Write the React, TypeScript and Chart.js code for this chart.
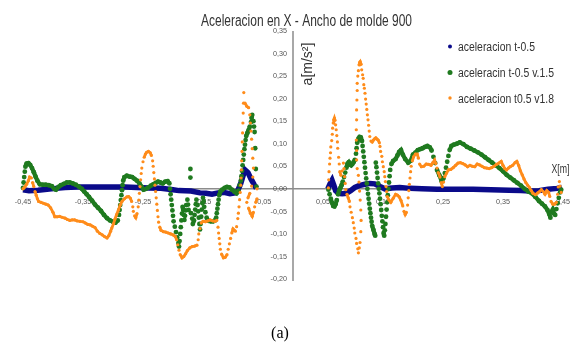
import React, { useEffect, useRef } from 'react';
import { Chart, registerables } from 'chart.js';

Chart.register(...registerables);

const chartTitle = 'Aceleracion en X - Ancho de molde 900';
const yAxisTitle = 'a[m/s²]';
const xAxisTitle = 'X[m]';
const caption = '(a)';
const seriesNames = ['aceleracion t-0.5', 'aceleracin t-0.5 v.1.5', 'aceleracion t0.5 v1.8'];
const seriesColors = ['#0a0a8a', '#1f7a1f', '#ff8c1a'];

const xTickValues = [-0.45, -0.35, -0.25, -0.15, -0.05, 0.05, 0.15, 0.25, 0.35, 0.45];
const xTickLabels = ['-0,45', '-0,35', '-0,25', '-0,15', '-0,05', '0,05', '0,15', '0,25', '0,35', '0,45'];
const yTickValues = [0.35, 0.3, 0.25, 0.2, 0.15, 0.1, 0.05, 0, -0.05, -0.1, -0.15, -0.2];
const yTickLabels = ['0,35', '0,30', '0,25', '0,20', '0,15', '0,10', '0,05', '0,00', '-0,05', '-0,10', '-0,15', '-0,20'];

type P = [number, number];

const blueLeft: P[] = [
  [-0.45, -0.002], [-0.44, -0.004], [-0.425, -0.003], [-0.41, -0.001], [-0.395, 0.001], [-0.38, 0.003],
  [-0.36, 0.004], [-0.34, 0.004], [-0.32, 0.004], [-0.3, 0.004], [-0.28, 0.004], [-0.26, 0.003],
  [-0.24, 0.002], [-0.22, 0.001], [-0.2, -0.002], [-0.19, -0.004], [-0.17, -0.005], [-0.155, -0.009],
  [-0.145, -0.01], [-0.135, -0.012], [-0.125, -0.009], [-0.115, -0.008], [-0.105, -0.011], [-0.097, -0.009],
  [-0.092, -0.004], [-0.087, 0.012], [-0.083, 0.03], [-0.08, 0.042], [-0.075, 0.036], [-0.07, 0.022],
  [-0.065, 0.01], [-0.061, 0.001],
];
const blueRight: P[] = [
  [0.058, 0.0], [0.062, 0.012], [0.065, 0.019], [0.068, 0.008], [0.071, -0.004], [0.076, -0.01],
  [0.082, -0.011], [0.089, -0.01], [0.096, -0.004], [0.103, 0.003], [0.11, 0.007], [0.12, 0.01],
  [0.128, 0.012], [0.136, 0.011], [0.145, 0.005], [0.153, 0.0], [0.165, 0.002], [0.178, 0.003],
  [0.195, 0.001], [0.215, 0.0], [0.24, -0.001], [0.27, -0.001], [0.3, -0.001], [0.33, -0.002],
  [0.36, -0.003], [0.38, -0.004], [0.395, -0.005], [0.41, -0.004], [0.425, -0.001], [0.44, 0.001],
  [0.448, 0.003],
];

const greenLeft: P[] = [
  [-0.45, 0.002], [-0.449, 0.014], [-0.448, 0.026], [-0.447, 0.038], [-0.446, 0.049], [-0.444, 0.056],
  [-0.441, 0.057], [-0.438, 0.053], [-0.435, 0.046], [-0.432, 0.037], [-0.429, 0.027], [-0.426, 0.018],
  [-0.422, 0.01], [-0.417, 0.009], [-0.412, 0.009], [-0.407, 0.008], [-0.402, 0.006], [-0.398, 0.0],
  [-0.395, -0.002], [-0.391, 0.004], [-0.387, 0.008], [-0.382, 0.011], [-0.377, 0.014], [-0.372, 0.014],
  [-0.367, 0.012], [-0.362, 0.009], [-0.357, 0.005], [-0.352, 0.0], [-0.348, -0.006], [-0.344, -0.012],
  [-0.34, -0.018], [-0.335, -0.026], [-0.33, -0.035], [-0.325, -0.042], [-0.32, -0.049], [-0.315, -0.058],
  [-0.31, -0.065], [-0.305, -0.07], [-0.3, -0.073], [-0.296, -0.075], [-0.292, -0.07],
  [-0.29, -0.058], [-0.289, -0.047], [-0.288, -0.036], [-0.287, -0.025], [-0.286, -0.014], [-0.285, -0.003],
  [-0.284, 0.008], [-0.283, 0.018], [-0.281, 0.026], [-0.277, 0.029], [-0.272, 0.027], [-0.268, 0.026],
  [-0.264, 0.022], [-0.26, 0.018], [-0.256, 0.012], [-0.252, 0.004], [-0.249, -0.002], [-0.245, 0.0],
  [-0.241, 0.003], [-0.237, 0.007], [-0.233, 0.01], [-0.229, 0.013], [-0.225, 0.016], [-0.221, 0.014],
  [-0.217, 0.012], [-0.213, 0.016], [-0.209, 0.017], [-0.206, 0.012],
  [-0.205, 0.0], [-0.204, -0.012], [-0.203, -0.024], [-0.202, -0.036], [-0.201, -0.048], [-0.2, -0.06],
  [-0.199, -0.072], [-0.197, -0.084], [-0.195, -0.096], [-0.193, -0.108], [-0.191, -0.12], [-0.19, -0.128],
  [-0.189, -0.116], [-0.188, -0.1], [-0.187, -0.085], [-0.186, -0.07], [-0.185, -0.055], [-0.184, -0.04],
  [-0.183, -0.047], [-0.182, -0.058], [-0.181, -0.069], [-0.18, -0.06], [-0.179, -0.048], [-0.178, -0.036],
  [-0.176, -0.024], [-0.175, -0.035], [-0.174, -0.047], [-0.171, 0.044], [-0.171, 0.025],
  [-0.17, -0.054], [-0.168, -0.066], [-0.167, -0.078], [-0.165, -0.07], [-0.164, -0.058], [-0.163, -0.046],
  [-0.162, -0.034], [-0.161, -0.024], [-0.159, -0.036], [-0.158, -0.05], [-0.157, -0.064], [-0.156, -0.078],
  [-0.155, -0.09], [-0.154, -0.078], [-0.153, -0.062], [-0.152, -0.046], [-0.151, -0.032], [-0.15, -0.02],
  [-0.149, -0.028], [-0.148, -0.04], [-0.146, -0.052], [-0.144, -0.064], [-0.141, -0.071], [-0.137, -0.072],
  [-0.133, -0.072], [-0.13, -0.07], [-0.128, -0.064], [-0.127, -0.054], [-0.126, -0.044], [-0.125, -0.034],
  [-0.124, -0.024], [-0.123, -0.014], [-0.121, -0.006], [-0.118, -0.002], [-0.114, 0.002], [-0.11, 0.004],
  [-0.106, 0.003], [-0.102, -0.002], [-0.098, -0.006], [-0.094, -0.01], [-0.091, -0.004], [-0.089, 0.008],
  [-0.087, 0.018], [-0.086, 0.028], [-0.085, 0.04], [-0.084, 0.052], [-0.083, 0.064], [-0.082, 0.076],
  [-0.081, 0.088], [-0.08, 0.098], [-0.079, 0.108], [-0.078, 0.117], [-0.076, 0.124], [-0.074, 0.13],
  [-0.072, 0.138], [-0.07, 0.148], [-0.069, 0.157], [-0.068, 0.164], [-0.066, 0.15], [-0.065, 0.138],
  [-0.064, 0.126], [-0.063, 0.09], [-0.062, 0.044], [-0.061, 0.005],
];
const greenRight: P[] = [
  [0.059, -0.002], [0.061, -0.012], [0.063, -0.022], [0.065, -0.031], [0.067, -0.038], [0.069, -0.039],
  [0.071, -0.034], [0.073, -0.025], [0.075, -0.012], [0.077, -0.004], [0.079, 0.002], [0.081, 0.008],
  [0.083, 0.016], [0.085, 0.026], [0.087, 0.036], [0.089, 0.047], [0.091, 0.056], [0.093, 0.059],
  [0.095, 0.054], [0.097, 0.052], [0.099, 0.055], [0.101, 0.059], [0.103, 0.064], [0.105, 0.078],
  [0.106, 0.09], [0.107, 0.102], [0.109, 0.111], [0.111, 0.115], [0.113, 0.114], [0.115, 0.106],
  [0.116, 0.095], [0.117, 0.083], [0.118, 0.071], [0.119, 0.059], [0.12, 0.047], [0.121, 0.035],
  [0.122, 0.023], [0.123, 0.012], [0.124, 0.0], [0.125, -0.011], [0.126, -0.022], [0.127, -0.033],
  [0.128, -0.044], [0.129, -0.054], [0.13, -0.064], [0.131, -0.073], [0.132, -0.082], [0.134, -0.091],
  [0.136, -0.1], [0.137, -0.104],
  [0.138, 0.058], [0.139, 0.048], [0.14, 0.036], [0.141, 0.024], [0.142, 0.012], [0.143, 0.0],
  [0.144, -0.01], [0.145, -0.022], [0.146, -0.034], [0.147, -0.047], [0.148, -0.06], [0.149, -0.072],
  [0.15, -0.085], [0.151, -0.098], [0.152, -0.104], [0.153, -0.092], [0.154, -0.078], [0.155, -0.062],
  [0.156, -0.046], [0.157, -0.03], [0.158, -0.014], [0.159, 0.0], [0.16, 0.014], [0.161, 0.028],
  [0.162, 0.042], [0.164, 0.055], [0.167, 0.062], [0.171, 0.066], [0.174, 0.074], [0.177, 0.082],
  [0.18, 0.086], [0.183, 0.076], [0.187, 0.066], [0.192, 0.058], [0.196, 0.062], [0.2, 0.076],
  [0.204, 0.08], [0.208, 0.086], [0.212, 0.088], [0.216, 0.09], [0.22, 0.093], [0.224, 0.095],
  [0.228, 0.092], [0.231, 0.085], [0.234, 0.071], [0.237, 0.057], [0.24, 0.042], [0.244, 0.03],
  [0.248, 0.016], [0.251, 0.024], [0.253, 0.035], [0.255, 0.047], [0.257, 0.06], [0.259, 0.073],
  [0.261, 0.086], [0.264, 0.095], [0.268, 0.098], [0.273, 0.1], [0.278, 0.103], [0.284, 0.099],
  [0.29, 0.093], [0.296, 0.089], [0.302, 0.085], [0.308, 0.081], [0.314, 0.076], [0.32, 0.07],
  [0.326, 0.064], [0.332, 0.058], [0.338, 0.052], [0.344, 0.046], [0.35, 0.039], [0.356, 0.031],
  [0.362, 0.025], [0.368, 0.019], [0.374, 0.013], [0.38, 0.007], [0.386, 0.0], [0.392, -0.006],
  [0.398, -0.01], [0.404, -0.018], [0.41, -0.027], [0.415, -0.033], [0.42, -0.039], [0.424, -0.047],
  [0.427, -0.056], [0.429, -0.064], [0.431, -0.052], [0.433, -0.046], [0.435, -0.055], [0.437, -0.058],
  [0.439, -0.045], [0.441, -0.032], [0.443, -0.02], [0.445, -0.008], [0.447, -0.002],
];

const orangeLeft: P[] = [
  [-0.45, 0.0], [-0.447, 0.004], [-0.444, 0.01], [-0.441, 0.018], [-0.439, 0.026], [-0.436, 0.024],
  [-0.434, 0.014], [-0.432, 0.005], [-0.43, -0.006], [-0.428, -0.014], [-0.426, -0.022], [-0.424, -0.028],
  [-0.42, -0.03], [-0.416, -0.032], [-0.412, -0.034], [-0.408, -0.036], [-0.404, -0.042], [-0.4, -0.052],
  [-0.397, -0.062], [-0.393, -0.062], [-0.389, -0.061], [-0.385, -0.063], [-0.38, -0.065], [-0.376, -0.068],
  [-0.372, -0.07], [-0.368, -0.069], [-0.364, -0.069], [-0.36, -0.071], [-0.355, -0.072], [-0.35, -0.073],
  [-0.346, -0.076], [-0.342, -0.079], [-0.338, -0.08], [-0.334, -0.083], [-0.33, -0.086], [-0.326, -0.094],
  [-0.322, -0.099], [-0.318, -0.102], [-0.314, -0.106], [-0.31, -0.109], [-0.307, -0.104], [-0.304, -0.094],
  [-0.302, -0.087], [-0.299, -0.077], [-0.297, -0.068], [-0.294, -0.057], [-0.291, -0.047], [-0.288, -0.036],
  [-0.285, -0.028], [-0.281, -0.022], [-0.277, -0.018], [-0.274, -0.017], [-0.271, -0.021], [-0.269, -0.028],
  [-0.267, -0.04], [-0.266, -0.05], [-0.264, -0.06], [-0.262, -0.064], [-0.26, -0.055], [-0.258, -0.04],
  [-0.257, -0.025], [-0.256, -0.01], [-0.255, 0.005], [-0.254, 0.02], [-0.253, 0.034], [-0.252, 0.046],
  [-0.25, 0.06], [-0.248, 0.07], [-0.246, 0.077], [-0.244, 0.081], [-0.241, 0.083], [-0.238, 0.08],
  [-0.236, 0.074], [-0.234, 0.062], [-0.233, 0.05], [-0.232, 0.036], [-0.231, 0.022], [-0.23, 0.008],
  [-0.229, -0.006], [-0.228, -0.02], [-0.227, -0.034], [-0.226, -0.048], [-0.225, -0.062], [-0.224, -0.074],
  [-0.222, -0.085], [-0.22, -0.092], [-0.216, -0.095], [-0.212, -0.096], [-0.208, -0.098], [-0.204, -0.1],
  [-0.2, -0.102], [-0.196, -0.106], [-0.194, -0.113], [-0.192, -0.124], [-0.19, -0.136], [-0.188, -0.146],
  [-0.185, -0.153], [-0.182, -0.15], [-0.179, -0.144], [-0.176, -0.137], [-0.172, -0.131], [-0.168, -0.128],
  [-0.164, -0.127], [-0.16, -0.125], [-0.158, -0.113], [-0.157, -0.1], [-0.155, -0.088], [-0.153, -0.076],
  [-0.15, -0.072], [-0.146, -0.073], [-0.142, -0.071], [-0.138, -0.069], [-0.134, -0.071], [-0.13, -0.072],
  [-0.127, -0.07], [-0.125, -0.085], [-0.124, -0.098], [-0.123, -0.11], [-0.122, -0.122], [-0.121, -0.134],
  [-0.119, -0.145], [-0.116, -0.153], [-0.113, -0.152], [-0.11, -0.146], [-0.108, -0.134], [-0.106, -0.122],
  [-0.104, -0.11], [-0.102, -0.098], [-0.1, -0.089], [-0.098, -0.092], [-0.096, -0.094], [-0.094, -0.084],
  [-0.092, -0.066], [-0.091, -0.054], [-0.09, -0.04], [-0.089, -0.024], [-0.088, -0.008], [-0.087, 0.008],
  [-0.0865, 0.024], [-0.086, 0.042], [-0.0855, 0.062], [-0.085, 0.083], [-0.0845, 0.104], [-0.084, 0.124],
  [-0.0835, 0.146], [-0.083, 0.168], [-0.0825, 0.19], [-0.082, 0.2135], [-0.08, 0.19], [-0.077, 0.183],
  [-0.074, 0.18], [-0.072, 0.164], [-0.071, 0.146], [-0.07, 0.128], [-0.069, 0.11], [-0.068, 0.089],
  [-0.067, 0.068], [-0.066, 0.046], [-0.067, 0.026], [-0.069, 0.006], [-0.072, -0.01], [-0.075, -0.02],
  [-0.077, -0.03], [-0.074, -0.043], [-0.071, -0.054], [-0.068, -0.061], [-0.066, -0.052], [-0.064, -0.04],
  [-0.062, -0.03], [-0.06, -0.022], [-0.06, 0.0],
];
const orangeRight: P[] = [
  [0.059, 0.002], [0.0595, 0.02], [0.06, 0.038], [0.061, 0.055], [0.0617, 0.068], [0.0625, 0.08],
  [0.063, 0.093], [0.0645, 0.107], [0.0655, 0.121], [0.066, 0.1345], [0.067, 0.146], [0.068, 0.153],
  [0.069, 0.157], [0.07, 0.152], [0.071, 0.142], [0.072, 0.131], [0.073, 0.118], [0.074, 0.104],
  [0.0745, 0.09], [0.076, 0.07], [0.077, 0.055], [0.078, 0.038], [0.08, 0.03], [0.082, 0.04],
  [0.084, 0.057], [0.085, 0.045], [0.086, 0.027], [0.087, 0.012], [0.088, -0.002], [0.09, -0.012],
  [0.092, -0.02], [0.094, -0.028], [0.095, -0.04], [0.097, -0.052], [0.099, -0.064], [0.1005, -0.075],
  [0.102, -0.087], [0.103, -0.098], [0.105, -0.11], [0.106, -0.121], [0.108, -0.133], [0.109, -0.142],
  [0.1105, -0.131], [0.1117, -0.119], [0.113, -0.095], [0.1135, -0.07], [0.113, -0.047], [0.112, -0.025],
  [0.111, -0.005], [0.11, 0.015], [0.109, 0.03], [0.107, 0.045], [0.106, 0.064], [0.106, 0.085],
  [0.1055, 0.108], [0.1055, 0.131], [0.106, 0.153], [0.106, 0.175], [0.1065, 0.197], [0.107, 0.218],
  [0.107, 0.234], [0.108, 0.25], [0.109, 0.262], [0.11, 0.275], [0.111, 0.28], [0.112, 0.282],
  [0.1135, 0.276], [0.1145, 0.264], [0.116, 0.253], [0.117, 0.245], [0.118, 0.231], [0.119, 0.223],
  [0.12, 0.212], [0.121, 0.199], [0.122, 0.188], [0.123, 0.176], [0.124, 0.164], [0.125, 0.153],
  [0.126, 0.141], [0.127, 0.128], [0.128, 0.116], [0.13, 0.106], [0.132, 0.104], [0.134, 0.108],
  [0.136, 0.111], [0.138, 0.113], [0.14, 0.11], [0.142, 0.108], [0.144, 0.102], [0.145, 0.094],
  [0.146, 0.083], [0.148, 0.072], [0.149, 0.06], [0.1505, 0.049], [0.152, 0.038], [0.153, 0.027],
  [0.154, 0.016], [0.155, 0.005], [0.156, -0.006], [0.157, -0.017], [0.16, -0.025], [0.163, -0.03],
  [0.167, -0.021], [0.171, -0.012], [0.174, -0.014], [0.177, -0.018], [0.18, -0.026], [0.183, -0.038],
  [0.185, -0.05], [0.187, -0.057], [0.189, -0.052], [0.191, -0.036], [0.192, -0.02], [0.193, -0.004],
  [0.194, 0.01], [0.195, 0.024], [0.196, 0.038], [0.197, 0.05], [0.199, 0.062], [0.201, 0.071],
  [0.204, 0.077], [0.207, 0.077], [0.209, 0.068], [0.211, 0.055], [0.214, 0.049], [0.218, 0.05],
  [0.222, 0.055], [0.226, 0.054], [0.23, 0.052], [0.233, 0.058], [0.236, 0.064], [0.238, 0.056],
  [0.24, 0.046], [0.242, 0.036], [0.245, 0.026], [0.247, 0.014], [0.249, 0.005], [0.251, 0.015],
  [0.253, 0.027], [0.256, 0.035], [0.259, 0.042], [0.263, 0.043], [0.267, 0.047], [0.271, 0.052],
  [0.275, 0.057], [0.279, 0.058], [0.283, 0.056], [0.287, 0.053], [0.291, 0.049], [0.295, 0.052],
  [0.299, 0.05], [0.303, 0.049], [0.307, 0.055], [0.311, 0.053], [0.315, 0.05], [0.319, 0.047],
  [0.323, 0.046], [0.327, 0.045], [0.331, 0.047], [0.335, 0.05], [0.339, 0.054], [0.343, 0.057],
  [0.347, 0.061], [0.35, 0.052], [0.353, 0.045], [0.356, 0.042], [0.359, 0.046], [0.362, 0.049],
  [0.366, 0.052], [0.37, 0.058], [0.373, 0.061], [0.376, 0.052], [0.379, 0.04], [0.382, 0.031],
  [0.385, 0.022], [0.388, 0.014], [0.391, 0.008], [0.394, 0.003], [0.397, -0.004], [0.4, -0.01],
  [0.404, -0.013], [0.408, -0.009], [0.411, -0.006], [0.414, -0.002], [0.417, -0.006], [0.42, -0.012],
  [0.423, -0.004], [0.426, -0.008], [0.428, -0.017], [0.43, -0.028], [0.433, -0.034], [0.436, -0.034],
  [0.439, -0.03], [0.441, -0.012], [0.442, 0.004], [0.444, 0.016], [0.445, 0.006], [0.447, -0.008],
];

const toPoints = (arr: P[]) => arr.map(([x, y]) => ({ x, y }));

// hide steep connecting segments so those stretches show as separate dots
const steepHide = (color: string, k: number, c: number) => (ctx: any) => {
  const dx = Math.abs(ctx.p1.x - ctx.p0.x);
  const dy = Math.abs(ctx.p1.y - ctx.p0.y);
  return dy > k * dx + c || dx > 20 ? 'rgba(0,0,0,0)' : color;
};

// draws text; if fitWidth is given the text is condensed horizontally to that width
function drawText(ctx: CanvasRenderingContext2D, str: string, x: number, y: number, font: string, color: string, align: CanvasTextAlign, baseline: CanvasTextBaseline, sx = 1, fitWidth = 0) {
  ctx.save();
  ctx.font = font;
  let s = sx;
  if (fitWidth > 0) {
    const w = ctx.measureText(str).width;
    if (w > 0) s = fitWidth / w;
  }
  ctx.translate(x, y);
  ctx.scale(s, 1);
  ctx.fillStyle = color;
  ctx.textAlign = align;
  ctx.textBaseline = baseline;
  ctx.fillText(str, 0, 0);
  ctx.restore();
}

const SANS = '"Liberation Sans", Arial, sans-serif';
const TEXT = '#333333';

const decorPlugin = {
  id: 'decor',
  beforeDatasetsDraw(chart: any) {
    const { ctx, chartArea, scales } = chart;
    const xs = scales.x;
    const ys = scales.y;
    const x0 = xs.getPixelForValue(0);
    const y0 = ys.getPixelForValue(0);
    ctx.save();
    ctx.strokeStyle = '#8c8c8c';
    ctx.lineWidth = 1.5;
    ctx.beginPath();
    ctx.moveTo(chartArea.left, y0);
    ctx.lineTo(chartArea.right, y0);
    ctx.moveTo(x0, chartArea.top);
    ctx.lineTo(x0, chartArea.bottom + 2);
    ctx.stroke();
    ctx.restore();
    yTickValues.forEach((v, i) => {
      drawText(ctx, yTickLabels[i], x0 - 6, ys.getPixelForValue(v), `8px ${SANS}`, '#555555', 'right', 'middle', 0.9);
    });
    xTickValues.forEach((v, i) => {
      drawText(ctx, xTickLabels[i], xs.getPixelForValue(v), y0 + 13, `8px ${SANS}`, '#555555', 'center', 'middle', 0.9);
    });
  },
  afterDatasetsDraw(chart: any) {
    const { ctx, scales } = chart;
    const x0 = scales.x.getPixelForValue(0);
    // title
    drawText(ctx, chartTitle, 306.5, 26, `16px ${SANS}`, TEXT, 'center', 'alphabetic', 1, 211);
    // y axis title (rotated)
    ctx.save();
    ctx.translate(x0 + 15, 64);
    ctx.rotate(-Math.PI / 2);
    ctx.font = `14px ${SANS}`;
    ctx.fillStyle = TEXT;
    ctx.textAlign = 'center';
    ctx.textBaseline = 'middle';
    ctx.fillText(yAxisTitle, 0, 0);
    ctx.restore();
    // x axis title
    drawText(ctx, xAxisTitle, 560.5, 170, `12px ${SANS}`, TEXT, 'center', 'middle', 1, 18);
    // legend
    const radii = [2, 2.5, 1.7];
    const ys = [46.5, 72.5, 98];
    const widths = [77, 96, 96];
    seriesNames.forEach((name, i) => {
      ctx.save();
      ctx.fillStyle = seriesColors[i];
      ctx.beginPath();
      ctx.arc(450, ys[i], radii[i], 0, Math.PI * 2);
      ctx.fill();
      ctx.restore();
      drawText(ctx, name, 458, ys[i] + 4.5, `12.5px ${SANS}`, TEXT, 'left', 'alphabetic', 1, widths[i]);
    });
    // caption
    drawText(ctx, caption, 280, 338, '16px "Liberation Serif", "Times New Roman", serif', '#000000', 'center', 'alphabetic', 1);
  },
};

export default function App() {
  const canvasRef = useRef<HTMLCanvasElement | null>(null);

  useEffect(() => {
    const canvas = canvasRef.current;
    if (!canvas) return;
    const chart = new Chart(canvas, {
      type: 'scatter',
      data: {
        datasets: [
          {
            label: seriesNames[0],
            data: toPoints(blueLeft.concat(blueRight)),
            showLine: true,
            borderColor: seriesColors[0],
            backgroundColor: seriesColors[0],
            borderWidth: 5.5,
            pointRadius: 0,
            pointBackgroundColor: seriesColors[0],
            segment: { borderColor: steepHide(seriesColors[0], 100, 100) },
            order: 3,
            clip: false,
          } as any,
          {
            label: seriesNames[1],
            data: toPoints(greenLeft.concat(greenRight)),
            showLine: true,
            borderColor: seriesColors[1],
            backgroundColor: seriesColors[1],
            borderWidth: 4.2,
            pointRadius: 2.4,
            pointBorderWidth: 0,
            pointBackgroundColor: seriesColors[1],
            segment: { borderColor: steepHide(seriesColors[1], 2, 2) },
            order: 2,
            clip: false,
          } as any,
          {
            label: seriesNames[2],
            data: toPoints(orangeLeft.concat(orangeRight)),
            showLine: true,
            borderColor: seriesColors[2],
            backgroundColor: seriesColors[2],
            borderWidth: 2.8,
            pointRadius: 1.6,
            pointBorderWidth: 0,
            pointBackgroundColor: seriesColors[2],
            segment: { borderColor: steepHide(seriesColors[2], 2, 2) },
            order: 1,
            clip: false,
          } as any,
        ],
      },
      options: {
        animation: false,
        responsive: false,
        events: [],
        layout: { padding: { left: 23, right: 18, top: 31, bottom: 66 } },
        scales: {
          x: { type: 'linear', min: -0.45, max: 0.45, display: false },
          y: { type: 'linear', min: -0.2, max: 0.35, display: false },
        },
        plugins: {
          legend: { display: false },
          tooltip: { enabled: false },
          title: { display: false },
        },
      },
      plugins: [decorPlugin],
    });
    return () => chart.destroy();
  }, []);

  return (
    <div style={{ position: 'fixed', left: 0, top: 0, width: 581, height: 345, background: '#ffffff' }}>
      <canvas ref={canvasRef} width={581} height={345} style={{ display: 'block' }} />
    </div>
  );
}
